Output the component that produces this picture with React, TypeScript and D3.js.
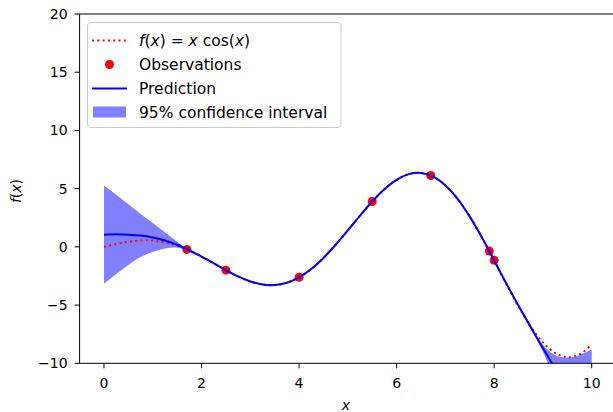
import React from "react";
import * as d3 from "d3";

// x grid of the curves
const gridX = [0, 0.25, 0.5, 0.75, 1, 1.25, 1.5, 1.75, 2, 2.25, 2.5, 2.75, 3, 3.25, 3.5, 3.75, 4, 4.25, 4.5, 4.75, 5, 5.25, 5.5, 5.75, 6, 6.25, 6.5, 6.75, 7, 7.25, 7.5, 7.75, 8, 8.25, 8.5, 8.75, 9, 9.25, 9.5, 9.75, 10];
// true function f(x) = x cos(x)
const fValues = [0, 0.242, 0.439, 0.549, 0.54, 0.394, 0.106, -0.312, -0.832, -1.413, -2.003, -2.542, -2.97, -3.231, -3.278, -3.077, -2.615, -1.896, -0.949, 0.179, 1.418, 2.686, 3.898, 4.952, 5.761, 6.247, 6.348, 6.028, 5.277, 4.13, 2.6, 0.805, -1.164, -3.183, -5.117, -6.83, -8.2, -9.108, -9.473, -9.239, -8.391];
// GP prediction mean
const predMean = [1.05, 1.08, 1.05, 0.97, 0.8, 0.55, 0.18, -0.31, -0.832, -1.413, -2.003, -2.542, -2.97, -3.231, -3.278, -3.077, -2.615, -1.896, -0.949, 0.179, 1.418, 2.686, 3.898, 4.952, 5.761, 6.247, 6.348, 6.028, 5.277, 4.13, 2.6, 0.805, -1.164, -3.15, -5.05, -6.9, -8.7, -10.45, -12.1, -13.6, -15.0];
// half-width of the 95% confidence interval
const ciHalf = [4.22, 3.4, 2.6, 1.85, 1.25, 0.7, 0.25, 0.02, 0.02, 0.03, 0.02, 0.03, 0.04, 0.04, 0.04, 0.03, 0.02, 0.03, 0.03, 0.03, 0.03, 0.02, 0.02, 0.02, 0.02, 0.02, 0.02, 0.02, 0.02, 0.02, 0.02, 0.02, 0.02, 0.05, 0.1, 0.15, 0.3, 1.15, 2.6, 4.3, 6.2];
// observations
const obsX = [1.7, 2.5, 4.0, 5.5, 6.7, 7.9, 8.0];
const obsY = [-0.22, -2.0, -2.61, 3.9, 6.13, -0.36, -1.16];

const xTicks = [0, 2, 4, 6, 8, 10];
const yTicks = [-10, -5, 0, 5, 10, 15, 20];

const W = 613;
const H = 412;
const FONT = "DejaVu Sans";

export default function App() {
  const x = d3.scaleLinear().domain([-0.5, 10.5]).range([79.6, 616.1]);
  const y = d3.scaleLinear().domain([-10, 20]).range([363.3, 14]);
  const plotL = x(-0.5), plotR = x(10.5), plotT = y(20), plotB = y(-10);

  const idx = gridX.map((_, i) => i);
  const curve = d3.curveCatmullRom.alpha(0.5);
  const fLine = d3.line<number>().x((i) => x(gridX[i])).y((i) => y(fValues[i])).curve(curve)(idx) || "";
  const mLine = d3.line<number>().x((i) => x(gridX[i])).y((i) => y(predMean[i])).curve(curve)(idx) || "";
  const band = d3.area<number>()
    .x((i) => x(gridX[i]))
    .y0((i) => y(predMean[i] - ciHalf[i]))
    .y1((i) => y(predMean[i] + ciHalf[i]))
    .curve(curve)(idx) || "";

  const lgX = 87.5, lgY = 22.5;
  const rowY = [40.5, 64.5, 88.5, 112];
  const hx0 = 92, hx1 = 127, tx = 139;
  const lgFont = 15.5;

  return (
    <svg width={W} height={H} style={{ position: "fixed", left: 0, top: 0, background: "#fff" }} fontFamily={FONT}>
      <defs>
        <clipPath id="plotclip">
          <rect x={plotL} y={plotT} width={plotR - plotL} height={plotB - plotT} />
        </clipPath>
      </defs>
      <rect x={0} y={0} width={W} height={H} fill="#fff" />
      <g clipPath="url(#plotclip)">
        <path d={band} fill="#0000ff" fillOpacity={0.5} stroke="none" />
        <path d={fLine} fill="none" stroke="#ff0000" strokeWidth={2} strokeDasharray="2 3.3" />
        {obsX.map((v, i) => (
          <circle key={i} cx={x(v)} cy={y(obsY[i])} r={4.5} fill="#ff0000" />
        ))}
        <path d={mLine} fill="none" stroke="#0000ff" strokeWidth={2} />
      </g>
      {/* spines */}
      <line x1={plotL} x2={plotL} y1={plotT} y2={plotB} stroke="#000" strokeWidth={1} />
      <line x1={plotL} x2={plotR} y1={plotB} y2={plotB} stroke="#000" strokeWidth={1} />
      <line x1={plotL} x2={plotR} y1={plotT} y2={plotT} stroke="#000" strokeWidth={1} />
      {/* y ticks */}
      {yTicks.map((t) => (
        <g key={"y" + t}>
          <line x1={plotL - 5} x2={plotL} y1={y(t)} y2={y(t)} stroke="#000" strokeWidth={1} />
          <text x={plotL - 12} y={y(t)} dy="0.36em" textAnchor="end" fontSize={14} fill="#000">
            {t < 0 ? "\u2212" + Math.abs(t) : String(t)}
          </text>
        </g>
      ))}
      {/* x ticks */}
      {xTicks.map((t) => (
        <g key={"x" + t}>
          <line x1={x(t)} x2={x(t)} y1={plotB} y2={plotB + 5} stroke="#000" strokeWidth={1} />
          <text x={x(t)} y={388} textAnchor="middle" fontSize={14} fill="#000">
            {String(t)}
          </text>
        </g>
      ))}
      {/* axis labels */}
      <text x={346} y={410} textAnchor="middle" fontSize={14} fontStyle="italic" fill="#000">x</text>
      <text transform="translate(21,191) rotate(-90)" textAnchor="middle" fontSize={14} fill="#000">
        <tspan fontStyle="italic">f</tspan>(<tspan fontStyle="italic">x</tspan>)
      </text>
      {/* legend */}
      <rect x={lgX} y={lgY} width={253.5} height={105} rx={3} fill="#fff" fillOpacity={0.8} stroke="#cccccc" strokeWidth={1} />
      <line x1={hx0} x2={hx1} y1={rowY[0]} y2={rowY[0]} stroke="#ff0000" strokeWidth={2} strokeDasharray="2 3.3" />
      <circle cx={(hx0 + hx1) / 2} cy={rowY[1]} r={4.5} fill="#ff0000" />
      <line x1={hx0} x2={hx1} y1={rowY[2]} y2={rowY[2]} stroke="#0000ff" strokeWidth={2} />
      <rect x={hx0 + 1} y={rowY[3] - 5.5} width={hx1 - hx0 - 2} height={11} fill="#0000ff" fillOpacity={0.5} />
      <text x={tx} y={rowY[0]} dy="0.36em" fontSize={lgFont} fill="#000">
        <tspan fontStyle="italic">f</tspan>(<tspan fontStyle="italic">x</tspan>) = <tspan fontStyle="italic">x</tspan> cos(<tspan fontStyle="italic">x</tspan>)
      </text>
      <text x={tx} y={rowY[1]} dy="0.36em" fontSize={lgFont} fill="#000">Observations</text>
      <text x={tx} y={rowY[2]} dy="0.36em" fontSize={lgFont} fill="#000">Prediction</text>
      <text x={tx} y={rowY[3]} dy="0.36em" fontSize={lgFont} fill="#000">95% confidence interval</text>
    </svg>
  );
}
